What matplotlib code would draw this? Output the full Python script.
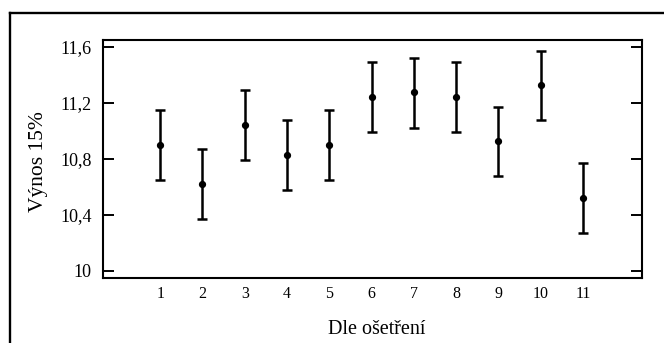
# -*- coding: utf-8 -*-
"""Výnos 15% dle ošetření -- průměry s intervaly (error bars)"""

import matplotlib
matplotlib.use("Agg")
import matplotlib.pyplot as plt
from matplotlib.lines import Line2D
from matplotlib.ticker import FuncFormatter

plt.rcParams["font.family"] = ["Liberation Serif", "DejaVu Serif"]

osetreni = [1, 2, 3, 4, 5, 6, 7, 8, 9, 10, 11]
prumer = [10.90, 10.62, 11.04, 10.83, 10.90, 11.24, 11.28, 11.24, 10.93, 11.33, 10.52]
dolni  = [10.65, 10.37, 10.79, 10.58, 10.65, 10.99, 11.02, 10.99, 10.68, 11.08, 10.27]
horni  = [11.15, 10.87, 11.29, 11.08, 11.15, 11.49, 11.52, 11.49, 11.17, 11.57, 10.77]
y_ticks = [10, 10.4, 10.8, 11.2, 11.6]

err = [[m - d for m, d in zip(prumer, dolni)],
       [h - m for m, h in zip(prumer, horni)]]

fig = plt.figure(figsize=(6.64, 3.43), dpi=100)
ax = fig.add_axes([0.1547, 0.1904, 0.8117, 0.693])

ax.errorbar(osetreni, prumer, yerr=err, fmt="o", color="black",
            markersize=4.2, elinewidth=1.8, capsize=3.6, capthick=1.8)

ax.set_xlim(-0.36, 12.39)
ax.set_ylim(9.95, 11.648)
ax.set_xticks(osetreni)
ax.set_yticks(y_ticks)
ax.yaxis.set_major_formatter(FuncFormatter(lambda v, p: f"{v:g}".replace(".", ",")))

ax.tick_params(axis="x", length=0, pad=6, labelsize=11.5)
ax.tick_params(axis="y", direction="in", length=7.7, width=1.4,
               left=True, right=True, labelsize=13, pad=8)
for s in ax.spines.values():
    s.set_linewidth(1.5)

ax.set_xlabel("Dle ošetření", fontsize=14.5, va="center")
ax.xaxis.set_label_coords(0.509, -0.22)
ax.set_ylabel("Výnos 15%", fontsize=15.5, va="center")
ax.yaxis.set_label_coords(-0.12, 0.487)

# vnější rámeček
x0 = 10 / 664
y0 = 1 - 13.3 / 343
fig.add_artist(Line2D([x0, x0], [0, y0], transform=fig.transFigure, color="black", lw=1.7))
fig.add_artist(Line2D([x0, 1], [y0, y0], transform=fig.transFigure, color="black", lw=1.7))

fig.savefig("out.png", dpi=100)
